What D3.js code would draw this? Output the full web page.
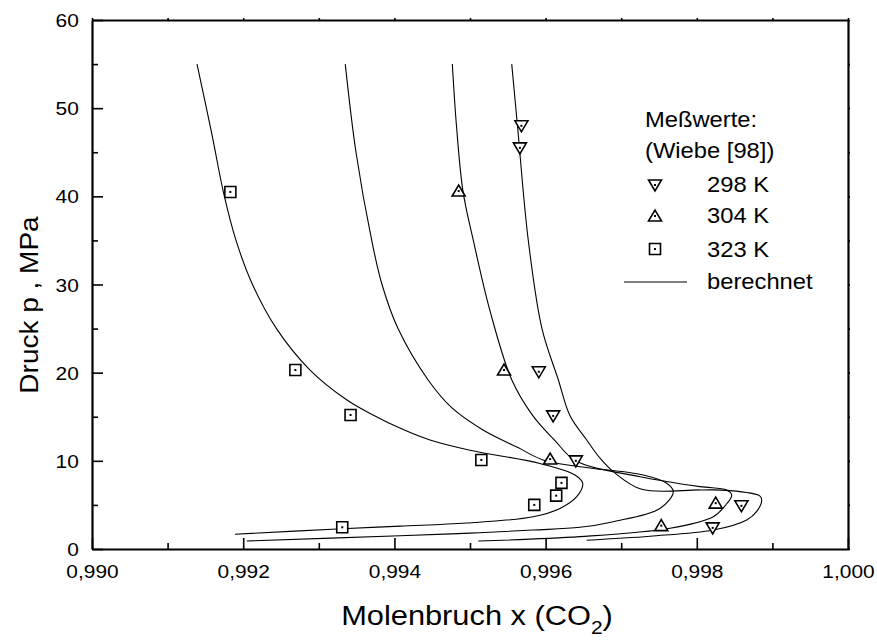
<!DOCTYPE html>
<html>
<head>
<meta charset="utf-8">
<script src="https://cdn.jsdelivr.net/npm/d3@7"></script>
<style>
  body { margin: 0; background: #fff; }
  text { font-family: "Liberation Sans", Arial, sans-serif; fill: #000; }
</style>
</head>
<body>
<svg id="chart" width="877" height="642"></svg>
<script>
// tick values
var xTicks = [0.990, 0.992, 0.994, 0.996, 0.998, 1.000];
var xMinor = [0.991, 0.993, 0.995, 0.997, 0.999];
var yTicks = [0, 10, 20, 30, 40, 50, 60];
var yMinor = [5, 15, 25, 35, 45, 55];

// measured points (Wiebe [98])
var x298 = [0.99568, 0.99566, 0.99591, 0.99610, 0.99640, 0.99859, 0.99821];
var p298 = [48.0, 45.5, 20.1, 15.1, 10.0, 4.9, 2.4];
var x304 = [0.99485, 0.99545, 0.99606, 0.99825, 0.99753];
var p304 = [40.6, 20.3, 10.2, 5.2, 2.65];
var x323 = [0.99183, 0.99269, 0.99342, 0.99515, 0.99621, 0.99614, 0.99585, 0.99331];
var p323 = [40.5, 20.3, 15.2, 10.1, 7.5, 6.05, 5.0, 2.46];

// calculated curves (berechnet)
var calcX1 = [0.991389, 0.991587, 0.991739, 0.991905, 0.992123, 0.992440, 0.992884, 0.993373, 0.993717, 0.994101, 0.994471, 0.995000, 0.995926, 0.996389, 0.996491, 0.996411, 0.996190, 0.995837, 0.994956, 0.994074, 0.993307, 0.991892];
var calcP1 = [55, 47, 40.45, 35, 30, 25, 20.3, 16.9, 15.2, 13.6, 12.36, 11.2, 9.7, 8.4, 7.45, 5.93, 4.6, 3.66, 2.95, 2.6, 2.3, 1.67];
var calcX2 = [0.993350, 0.993492, 0.993700, 0.993836, 0.994048, 0.994444, 0.994762, 0.995172, 0.995635, 0.995966, 0.996455, 0.997292, 0.997602, 0.997689, 0.997513, 0.996896, 0.996455, 0.995833, 0.995000, 0.994074, 0.992046];
var calcP2 = [55, 45, 35, 30, 25, 19.2, 16, 13.5, 11.5, 10.1, 9.33, 8.39, 7.45, 6.5, 4.6, 3.1, 2.46, 2.15, 1.8, 1.5, 0.91];
var calcX3 = [0.994766, 0.994821, 0.994907, 0.995044, 0.995265, 0.995552, 0.995833, 0.996124, 0.996398, 0.997249, 0.998042, 0.998395, 0.998462, 0.998373, 0.998218, 0.997646, 0.996455, 0.995110];
var calcP3 = [55, 48, 40.6, 35, 27, 19.2, 15.1, 12.3, 10, 8.2, 7.07, 6.69, 6.1, 4.9, 3.66, 2.35, 1.4, 0.91];
var calcX4 = [0.995552, 0.995628, 0.995771, 0.995952, 0.996168, 0.996323, 0.996544, 0.996720, 0.996896, 0.997271, 0.998042, 0.998395, 0.998836, 0.998858, 0.998796, 0.998660, 0.998218, 0.997381, 0.996544];
var calcP4 = [55, 48, 35, 25, 19.2, 15.1, 12.36, 10.3, 8.77, 6.77, 6.7, 6.65, 6.0, 5.5, 4.3, 3.3, 2.15, 1.45, 1.0];

var margin = {top: 20, right: 29, bottom: 93, left: 92};
var width = 877 - margin.left - margin.right;
var height = 642 - margin.top - margin.bottom;

var svg = d3.select("#chart");
var g = svg.append("g").attr("transform", "translate(" + margin.left + "," + margin.top + ")");

var x = d3.scaleLinear().domain([0.990, 1.000]).range([0, width]);
var y = d3.scaleLinear().domain([0, 60]).range([height, 0]);

var fmt = function(d) { return d.toFixed(3).replace(".", ","); };

// bottom axis, ticks inward
var xAxis = g.append("g").attr("transform", "translate(0," + height + ")")
  .call(d3.axisBottom(x).tickValues(xTicks).tickFormat(fmt).tickSizeInner(-11).tickSizeOuter(0).tickPadding(0));
xAxis.selectAll("text").attr("y", 29).attr("dy", 0)
  .attr("font-size", 19).attr("transform", "scale(1.1,1)");
g.append("g").attr("transform", "translate(0," + height + ")")
  .call(d3.axisBottom(x).tickValues(xMinor).tickFormat("").tickSizeInner(-6).tickSizeOuter(0))
  .select(".domain").remove();

// left axis, ticks inward
var yAxis = g.append("g")
  .call(d3.axisLeft(y).tickValues(yTicks).tickSizeInner(-11).tickSizeOuter(0).tickPadding(0));
yAxis.selectAll("text").attr("x", -12).attr("dy", "0.35em")
  .attr("font-size", 19).attr("transform", "scale(1.1,1)");
g.append("g")
  .call(d3.axisLeft(y).tickValues(yMinor).tickFormat("").tickSizeInner(-6).tickSizeOuter(0))
  .select(".domain").remove();

// top and right frame with small marks
g.append("g")
  .call(d3.axisTop(x).tickValues(xTicks.concat(xMinor)).tickFormat("").tickSizeInner(2).tickSizeOuter(0));
g.append("g").attr("transform", "translate(" + width + ",0)")
  .call(d3.axisRight(y).tickValues(yTicks.concat(yMinor)).tickFormat("").tickSizeInner(2).tickSizeOuter(0));

g.selectAll(".domain").attr("stroke-width", 2.2);
g.selectAll(".tick line").attr("stroke-width", 1.6);

// axis titles
svg.append("text")
  .attr("transform", "translate(477,625) scale(1.1,1)")
  .attr("text-anchor", "middle").attr("font-size", 28)
  .html('Molenbruch x (CO<tspan dy="9" font-size="19">2</tspan><tspan dy="-9">)</tspan>');

svg.append("text")
  .attr("transform", "translate(38,305) rotate(-90) scale(1.12,1)")
  .attr("text-anchor", "middle").attr("font-size", 25)
  .text("Druck p , MPa");

// curves
var line = d3.line()
  .x(function(d) { return x(d[0]); })
  .y(function(d) { return y(d[1]); })
  .curve(d3.curveCatmullRom.alpha(0.5));

var curves = [[calcX1, calcP1], [calcX2, calcP2], [calcX3, calcP3], [calcX4, calcP4]];
curves.forEach(function(c) {
  var pts = c[0].map(function(v, i) { return [v, c[1][i]]; });
  g.append("path").datum(pts)
    .attr("d", line)
    .attr("fill", "none").attr("stroke", "#000").attr("stroke-width", 1.1);
});

// markers
function drawMarker(sel, type) {
  var path;
  if (type == "down") path = "M-6.5,-5L6.5,-5L0,6Z";
  else if (type == "up") path = "M-6.5,5L6.5,5L0,-6Z";
  else path = "M-5.5,-5.5H5.5V5.5H-5.5Z";
  sel.append("path").attr("d", path)
    .attr("fill", "#fff").attr("stroke", "#000").attr("stroke-width", 1.6);
  sel.append("rect").attr("x", -1).attr("y", -1).attr("width", 2).attr("height", 2).attr("fill", "#000");
}

var series = [
  {xs: x298, ps: p298, type: "down"},
  {xs: x304, ps: p304, type: "up"},
  {xs: x323, ps: p323, type: "square"}
];
series.forEach(function(s) {
  s.xs.forEach(function(v, i) {
    var m = g.append("g").attr("transform", "translate(" + x(v) + "," + y(s.ps[i]) + ")");
    drawMarker(m, s.type);
  });
});

// legend
var leg = svg.append("g");
function legText(tx, ty, str) {
  leg.append("text").attr("transform", "translate(" + tx + "," + ty + ") scale(1.08,1)")
    .attr("font-size", 22).text(str);
}
legText(645, 127, "Meßwerte:");
legText(645, 158, "(Wiebe [98])");
var legItems = [{t: "down", y: 185, label: "298 K", ty: 192}, {t: "up", y: 216, label: "304 K", ty: 223}, {t: "square", y: 249, label: "323 K", ty: 257}];
legItems.forEach(function(d) {
  drawMarker(leg.append("g").attr("transform", "translate(655," + d.y + ")"), d.t);
  legText(707, d.ty, d.label);
});
leg.append("line").attr("x1", 624).attr("x2", 687).attr("y1", 282).attr("y2", 282)
  .attr("stroke", "#000").attr("stroke-width", 1.1);
legText(707, 289, "berechnet");
</script>
</body>
</html>
